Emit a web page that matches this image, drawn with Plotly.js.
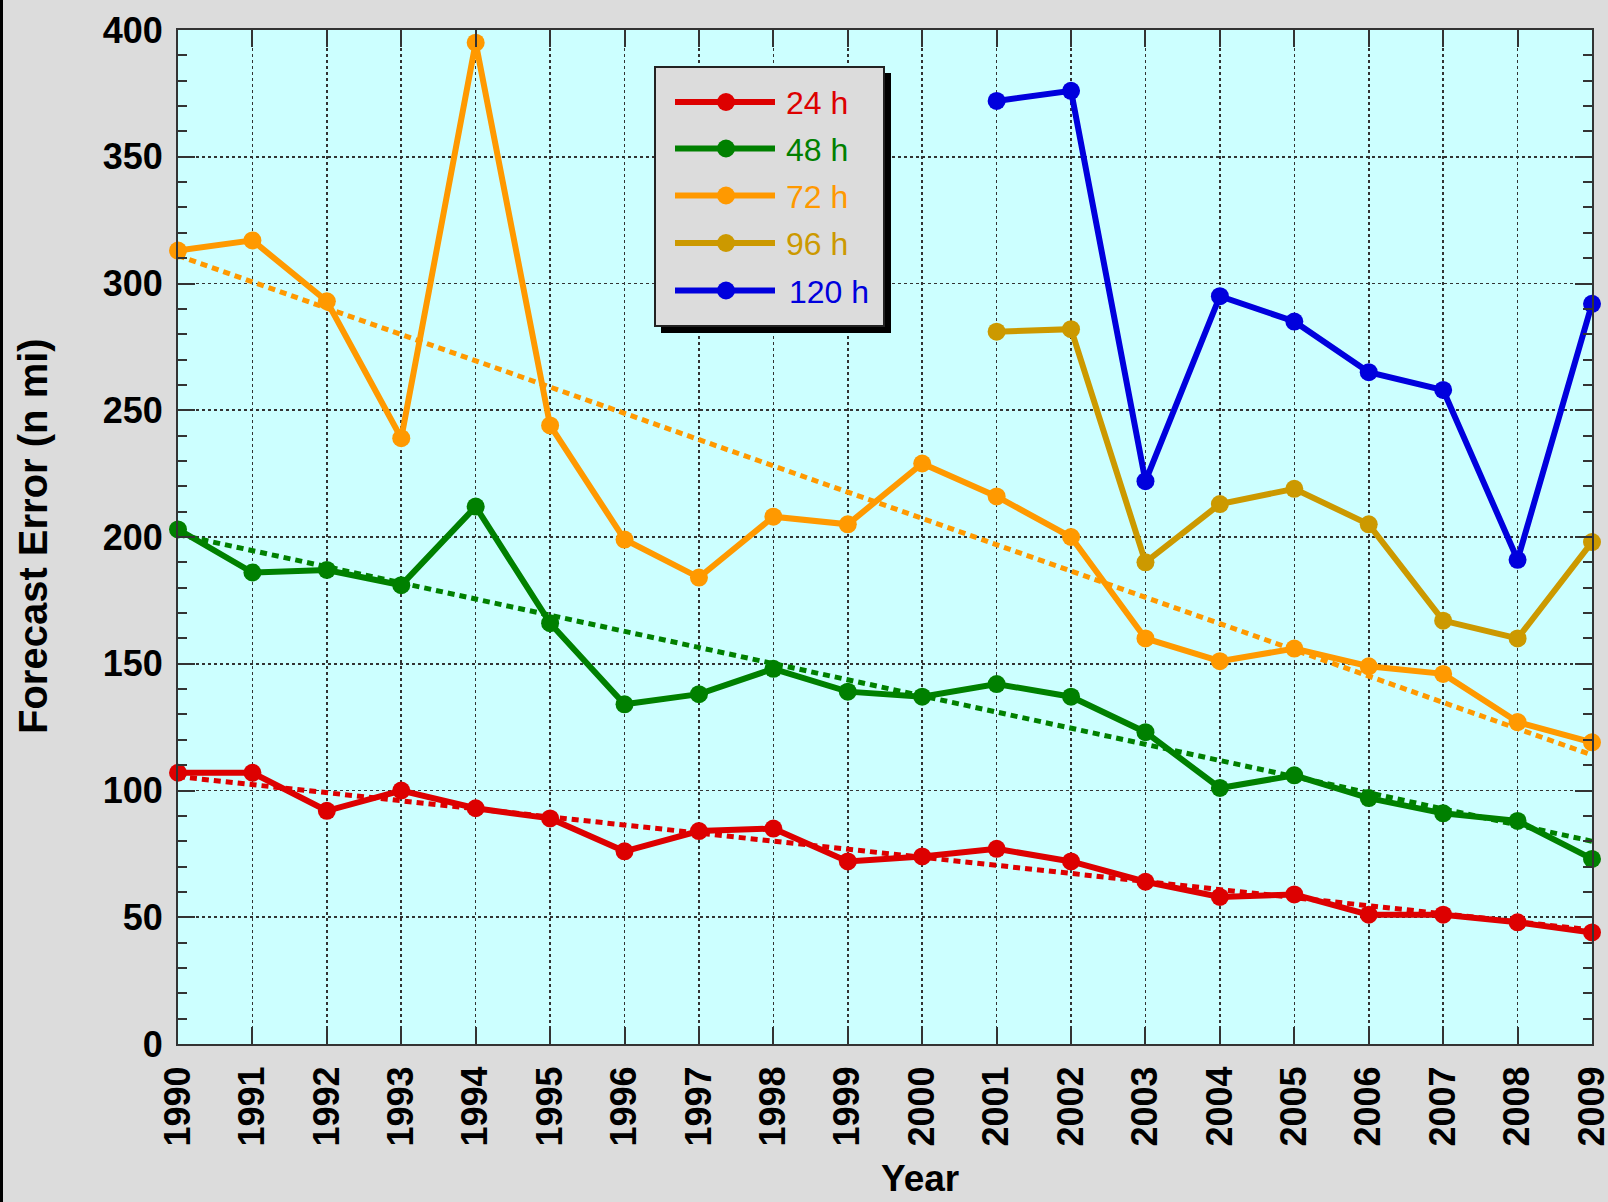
<!DOCTYPE html>
<html><head><meta charset="utf-8">
<script src="https://cdn.plot.ly/plotly-3.0.1.min.js"></script>
<style>html,body{margin:0;padding:0;background:#dcdcdc;overflow:hidden}#chart{width:1608px;height:1202px}</style>
</head><body><div id="chart"></div>
<script>
// ---- data ----
const years = [1990,1991,1992,1993,1994,1995,1996,1997,1998,1999,2000,2001,2002,2003,2004,2005,2006,2007,2008,2009];
const yearsLate = [2001,2002,2003,2004,2005,2006,2007,2008,2009];
const err24 = [107,107,92,100,93,89,76,84,85,72,74,77,72,64,58,59,51,51,48,44];
const err48 = [203,186,187,181,212,166,134,138,148,139,137,142,137,123,101,106,97,91,88,73];
const err72 = [313,317,293,239,395,244,199,184,208,205,229,216,200,160,151,156,149,146,127,119];
const err96 = [281,282,190,213,219,205,167,160,198];
const err120 = [372,376,222,295,285,265,258,191,292];
const trendYears = [1990,2009];
const trend24 = [105.5,45];
const trend48 = [201,80];
const trend72 = [311,114];
const seriesNames = ['24 h','48 h','72 h','96 h','120 h'];
const seriesColors = ['#dd0000','#008000','#ff9900','#cc9900','#0000dd'];
const yTicks = [0,50,100,150,200,250,300,350,400];

// ---- geometry helpers (pixel -> paper) ----
const L=178,R=1592,T=30,B=1044;
const px = x => (x-L)/(R-L);
const py = y => (B-y)/(B-T);
const FONT = '"Liberation Sans", Arial, Helvetica, sans-serif';

function trend(x,y,color){
  return {type:'scatter',mode:'lines',x:x,y:y,line:{color:color,width:5,dash:'7px,5px'},
          showlegend:false,cliponaxis:false,hoverinfo:'skip'};
}
function series(x,y,name,color){
  return {type:'scatter',mode:'lines+markers',x:x,y:y,name:name,
          line:{color:color,width:6},marker:{color:color,size:18},
          showlegend:false,cliponaxis:false};
}
const data = [
  trend(trendYears,trend24,seriesColors[0]),
  trend(trendYears,trend48,seriesColors[1]),
  trend(trendYears,trend72,seriesColors[2]),
  series(years,err72,seriesNames[2],seriesColors[2]),
  series(years,err48,seriesNames[1],seriesColors[1]),
  series(years,err24,seriesNames[0],seriesColors[0]),
  series(yearsLate,err96,seriesNames[3],seriesColors[3]),
  series(yearsLate,err120,seriesNames[4],seriesColors[4])
];

// ---- custom legend ----
const shapes = [];
const annotations = [];
shapes.push({type:'rect',xref:'paper',yref:'paper',x0:px(0),x1:px(3),y0:py(1202),y1:py(0),
  fillcolor:'#000',line:{width:0},layer:'above'});
shapes.push({type:'rect',xref:'paper',yref:'paper',x0:px(661),x1:px(891),y0:py(333),y1:py(73),
  fillcolor:'#000',line:{width:0},layer:'above'});
shapes.push({type:'rect',xref:'paper',yref:'paper',x0:px(655),x1:px(884),y0:py(326),y1:py(67),
  fillcolor:'#dcdcdc',line:{color:'#222',width:2},layer:'above'});
const rowY = [102,148.5,195.5,243,290.5];
seriesNames.forEach((n,i)=>{
  const c = seriesColors[i], yy = rowY[i];
  shapes.push({type:'line',xref:'paper',yref:'paper',x0:px(675),x1:px(775),y0:py(yy),y1:py(yy),
    line:{color:c,width:6},layer:'above'});
  shapes.push({type:'circle',xref:'paper',yref:'paper',x0:px(717),x1:px(735),y0:py(yy+9),y1:py(yy-9),
    fillcolor:c,line:{color:c,width:0},layer:'above'});
  annotations.push({text:n,xref:'paper',yref:'paper',x:px(i===4?787:784),y:py(yy+1),xanchor:'left',yanchor:'middle',
    showarrow:false,font:{family:FONT,size:32,color:c}});
});
annotations.push({text:'Forecast Error (n mi)',xref:'paper',yref:'paper',x:px(33),y:py(536),
  textangle:-90,xanchor:'center',yanchor:'middle',showarrow:false,font:{family:FONT,size:40,color:'#000',weight:'bold'}});
annotations.push({text:'Year',xref:'paper',yref:'paper',x:px(920),y:py(1178),
  xanchor:'center',yanchor:'middle',showarrow:false,font:{family:FONT,size:37,color:'#000',weight:'bold'}});

const axCommon = {
  ticks:'inside',ticklen:17,tickwidth:2,tickcolor:'#333',
  showline:true,linecolor:'#333',linewidth:2,mirror:'ticks',
  showgrid:true,gridcolor:'#333',griddash:'dot',gridwidth:1.6,zeroline:false,
  ticklabeloverflow:'allow',
  tickfont:{family:FONT,size:36,color:'#000',weight:'bold'}
};
const layout = {
  width:1608,height:1202,
  margin:{l:L,r:1608-R,t:T,b:1202-B,autoexpand:false},
  paper_bgcolor:'#dcdcdc',plot_bgcolor:'#ccffff',
  showlegend:false,
  xaxis:Object.assign({},axCommon,{range:[1990,2009],tickmode:'array',tickvals:years,
    ticktext:years.map(String),tickangle:-90,ticklabelstandoff:6}),
  yaxis:Object.assign({},axCommon,{range:[0,400],tickmode:'array',tickvals:yTicks,
    ticktext:yTicks.map(String),ticklabelstandoff:6,
    minor:{dtick:10,tick0:0,ticks:'inside',ticklen:9,tickwidth:2,tickcolor:'#333',showgrid:false}}),
  shapes:shapes,annotations:annotations
};
Plotly.newPlot('chart',data,layout,{staticPlot:true,displayModeBar:false});
</script></body></html>
